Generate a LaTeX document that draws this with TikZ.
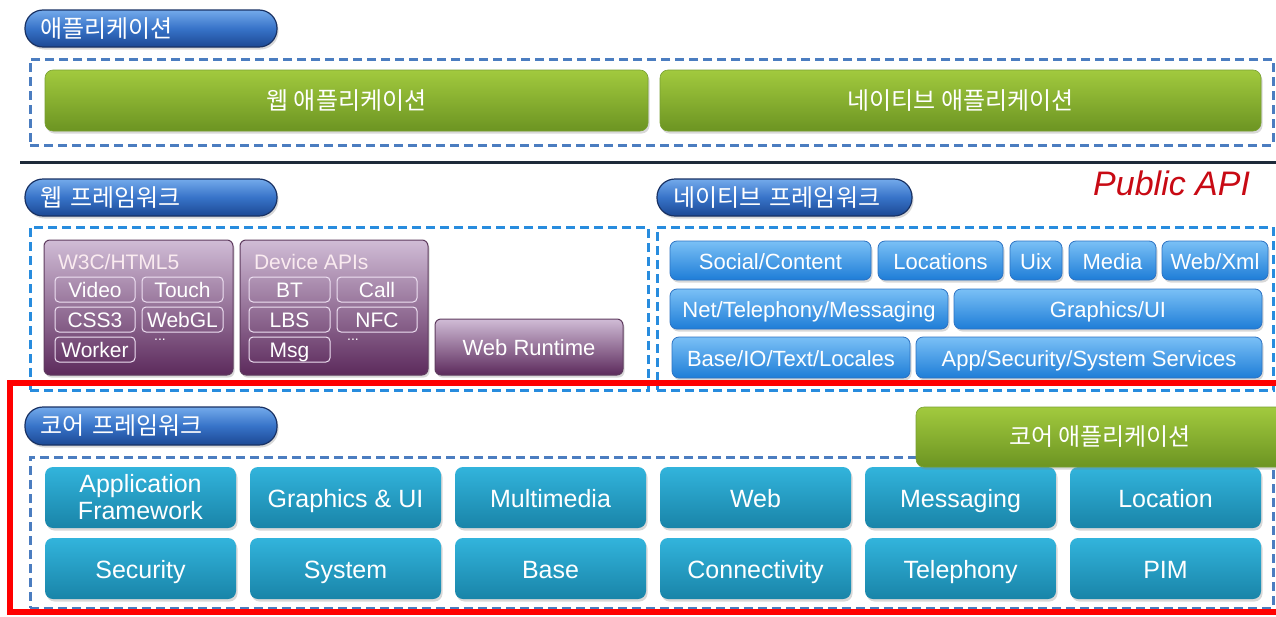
\documentclass[tikz,border=0pt]{standalone}
\usepackage{fontspec}
\setmainfont{Liberation Sans}
\newfontfamily\kr{Noto Sans CJK KR}
\usetikzlibrary{shadows}
\newcommand\myfs[1]{\fontsize{#1}{#1}\selectfont}
\newcommand\bx[7]{\node[#1, minimum width={(#5)-(#3)}, minimum height={(#6)-(#4)}] (#2) at ({((#3)+(#5))/2},{((#4)+(#6))/2}) {#7};}
\definecolor{pilltop}{RGB}{115,170,235}
\definecolor{pillmid}{RGB}{55,115,200}
\definecolor{pillbot}{RGB}{28,72,148}
\definecolor{pillborder}{RGB}{25,50,100}
\definecolor{greentop}{RGB}{162,202,62}
\definecolor{greenbot}{RGB}{108,148,34}
\definecolor{greenborder}{RGB}{120,160,50}
\definecolor{purptop}{RGB}{208,188,214}
\definecolor{purpbot}{RGB}{92,42,92}
\definecolor{purpborder}{RGB}{95,60,95}
\definecolor{innerline}{RGB}{238,224,242}
\definecolor{natop}{RGB}{122,192,246}
\definecolor{nabot}{RGB}{30,125,215}
\definecolor{naborder}{RGB}{45,115,195}
\definecolor{tealtop}{RGB}{50,180,220}
\definecolor{tealbot}{RGB}{25,132,168}
\definecolor{dashA}{RGB}{75,125,192}
\definecolor{dashB}{RGB}{40,140,222}
\definecolor{sepline}{RGB}{30,42,58}
\definecolor{pubred}{RGB}{200,10,20}
\begin{document}
\begin{tikzpicture}[x=1pt,y=-1pt,
  base/.style={inner sep=0pt, outer sep=0pt, text=white, align=center},
  shad/.style={drop shadow={shadow xshift=1.5pt, shadow yshift=-2.5pt, opacity=.3}},
  pill/.style={base, shad, draw=pillborder, line width=1.2pt, rounded corners=18pt,
    top color=pilltop, bottom color=pillbot, middle color=pillmid,
    font=\kr\myfs{24}, inner xsep=15pt, text width=222pt, align=left},
  greenbox/.style={base, shad, draw=greenborder, line width=.6pt, rounded corners=8pt,
    top color=greentop, bottom color=greenbot, font=\kr\myfs{24}},
  purpbox/.style={base, shad, draw=purpborder, line width=1pt, rounded corners=6pt,
    top color=purptop, bottom color=purpbot, font=\myfs{22}, text height=17pt, text depth=0pt},
  ptitle/.style={base, text=white!92!purple, font=\myfs{21}},
  inbox/.style={base, draw=innerline, line width=1pt, rounded corners=4pt, font=\myfs{21},
    text height=16pt, text depth=0pt},
  dotsnode/.style={base, font=\myfs{14}},
  natbox/.style={base, shad, draw=naborder, line width=.8pt, rounded corners=7pt,
    top color=natop, bottom color=nabot, font=\myfs{22}, text height=17pt, text depth=0pt},
  tealbox/.style={base, shad, rounded corners=8pt,
    top color=tealtop, bottom color=tealbot, font=\myfs{25}},
  tealone/.style={tealbox, text height=20pt, text depth=0pt},
  dashboxA/.style={inner sep=0pt, outer sep=0pt, draw=dashA, line width=3pt, dash pattern=on 9pt off 5pt},
  dashboxB/.style={inner sep=0pt, outer sep=0pt, draw=dashB, line width=3pt, dash pattern=on 9pt off 5pt},
  sep/.style={draw=sepline, line width=3pt}]
\path[use as bounding box, clip] (0,0) rectangle (1276,616);
\fill[white] (0,0) rectangle (1276,616);

% application layer
\bx{pill}{appl}{25}{10}{277}{47}{애플리케이션}
\bx{dashboxA}{appbox}{30}{59}{1273}{145}{}
\bx{greenbox}{webapp}{45}{70}{648}{131}{웹 애플리케이션}
\bx{greenbox}{natapp}{660}{70}{1261}{131}{네이티브 애플리케이션}

% separator
\coordinate (s1) at (20,162);
\coordinate (s2) at (1276,162);
\draw[sep] (s1) -- (s2);
\node[anchor=base west, font=\itshape\myfs{34}, text=pubred, inner sep=0pt] (pubapi) at (1093,195) {Public API};

% web framework
\bx{pill}{webfw}{25}{179}{277}{216}{웹 프레임워크}
\bx{dashboxB}{webbox}{30}{227}{648}{390}{}
\bx{purpbox}{w3c}{44}{240}{233}{375}{}
\bx{purpbox}{devapi}{240}{240}{428}{375}{}
\bx{purpbox}{wrt}{435}{319}{623}{375}{Web Runtime}
\node[ptitle, anchor=west] (w3ct) at (58,262) {W3C/HTML5};
\node[ptitle, anchor=west] (devt) at (254,262) {Device APIs};
\bx{inbox}{video}{55}{277}{135}{302}{Video}
\bx{inbox}{touch}{142}{277}{223}{302}{Touch}
\bx{inbox}{css}{55}{307}{135}{332}{CSS3}
\bx{inbox}{webgl}{142}{307}{223}{332}{WebGL}
\bx{inbox}{worker}{55}{337}{135}{362}{Worker}
\node[dotsnode] (dots1) at (160,340) {...};
\bx{inbox}{bt}{249}{277}{330}{302}{BT}
\bx{inbox}{call}{337}{277}{417}{302}{Call}
\bx{inbox}{lbs}{249}{307}{330}{332}{LBS}
\bx{inbox}{nfc}{337}{307}{417}{332}{NFC}
\bx{inbox}{msg}{249}{337}{330}{362}{Msg}
\node[dotsnode] (dots2) at (353,340) {...};

% native framework
\bx{pill}{natfw}{657}{179}{912}{216}{네이티브 프레임워크}
\bx{dashboxB}{natbox}{657}{227}{1273}{390}{}
\bx{natbox}{social}{670}{241}{871}{280}{Social/Content}
\bx{natbox}{locs}{878}{241}{1003}{280}{Locations}
\bx{natbox}{uix}{1010}{241}{1062}{280}{Uix}
\bx{natbox}{media}{1069}{241}{1156}{280}{Media}
\bx{natbox}{webxml}{1162}{241}{1268}{280}{Web/Xml}
\bx{natbox}{net}{670}{289}{948}{329}{Net/Telephony/Messaging}
\bx{natbox}{gfx}{954}{289}{1262}{329}{Graphics/UI}
\bx{natbox}{baseio}{672}{337}{910}{378}{Base/IO/Text/Locales}
\bx{natbox}{appsec}{916}{337}{1262}{378}{App/Security/System Services}

% core framework
\bx{pill}{corefw}{25}{407}{277}{445}{코어 프레임워크}
\bx{dashboxA}{corebox}{30}{457}{1273}{608}{}
\bx{tealbox}{appfw}{45}{467}{236}{528}{Application\\[2pt]Framework}
\bx{tealone}{gfxui}{250}{467}{441}{528}{Graphics \& UI}
\bx{tealone}{mm}{455}{467}{646}{528}{Multimedia}
\bx{tealone}{web}{660}{467}{851}{528}{Web}
\bx{tealone}{messaging}{865}{467}{1056}{528}{Messaging}
\bx{tealone}{location}{1070}{467}{1261}{528}{Location}
\bx{tealone}{security}{45}{538}{236}{599}{Security}
\bx{tealone}{system}{250}{538}{441}{599}{System}
\bx{tealone}{basec}{455}{538}{646}{599}{Base}
\bx{tealone}{conn}{660}{538}{851}{599}{Connectivity}
\bx{tealone}{tel}{865}{538}{1056}{599}{Telephony}
\bx{tealone}{pim}{1070}{538}{1261}{599}{PIM}
\bx{greenbox}{coreapp}{916}{407}{1284}{467}{코어 애플리케이션}

% highlight frame
\draw[red, line width=6pt] (10,383) rectangle (1295,612);
\end{tikzpicture}
\end{document}
